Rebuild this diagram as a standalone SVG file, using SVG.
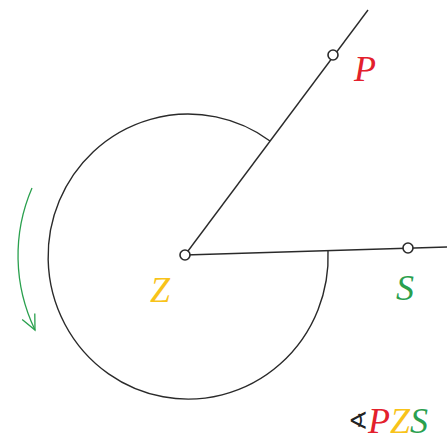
<svg xmlns="http://www.w3.org/2000/svg" width="447" height="440" viewBox="0 0 447 440">
<style>
.ln{fill:none;stroke:#2a2a2a;stroke-width:1.4}
.pt{fill:#fff;stroke:#2a2a2a;stroke-width:1.6}
.lb{font-family:"Liberation Serif",serif;font-style:italic;font-size:36px}
.red{fill:#e3202c}
.yel{fill:#f8c31a}
.grn{fill:#2aa04e}
</style>
<defs>
<marker id="ah" markerUnits="userSpaceOnUse" markerWidth="20" markerHeight="20" refX="16" refY="8" orient="auto">
<path d="M1,1 L16,8 L1,15" fill="none" stroke="#2aa04e" stroke-width="1.3"/>
</marker>
</defs>
<rect width="447" height="440" fill="#fff"/>
<g id="connectors">
<path class="ln" d="M185 255 L368 10"/>
<path class="ln" d="M185 255 L447 247"/>
<path class="ln" d="M270 141 A140 142.5 0 1 0 328 250.5"/>
<path d="M32 188 A171 171 0 0 0 35 330" fill="none" stroke="#2aa04e" stroke-width="1.3" marker-end="url(#ah)"/>
</g>
<g id="Z">
<circle class="pt" cx="185" cy="255" r="5"/>
<text class="lb yel" x="150" y="302">Z</text>
</g>
<g id="P">
<circle class="pt" cx="333" cy="55" r="5"/>
<text class="lb red" x="354" y="81">P</text>
</g>
<g id="S">
<circle class="pt" cx="408" cy="248" r="5"/>
<text class="lb grn" x="396" y="300">S</text>
</g>
<g id="angle-label">
<text x="368" y="429" text-anchor="end" font-family="DejaVu Sans,sans-serif" font-size="24" fill="#222">∢</text>
<text class="lb" x="368" y="433"><tspan class="red">P</tspan><tspan class="yel">Z</tspan><tspan class="grn">S</tspan></text>
</g>
</svg>
